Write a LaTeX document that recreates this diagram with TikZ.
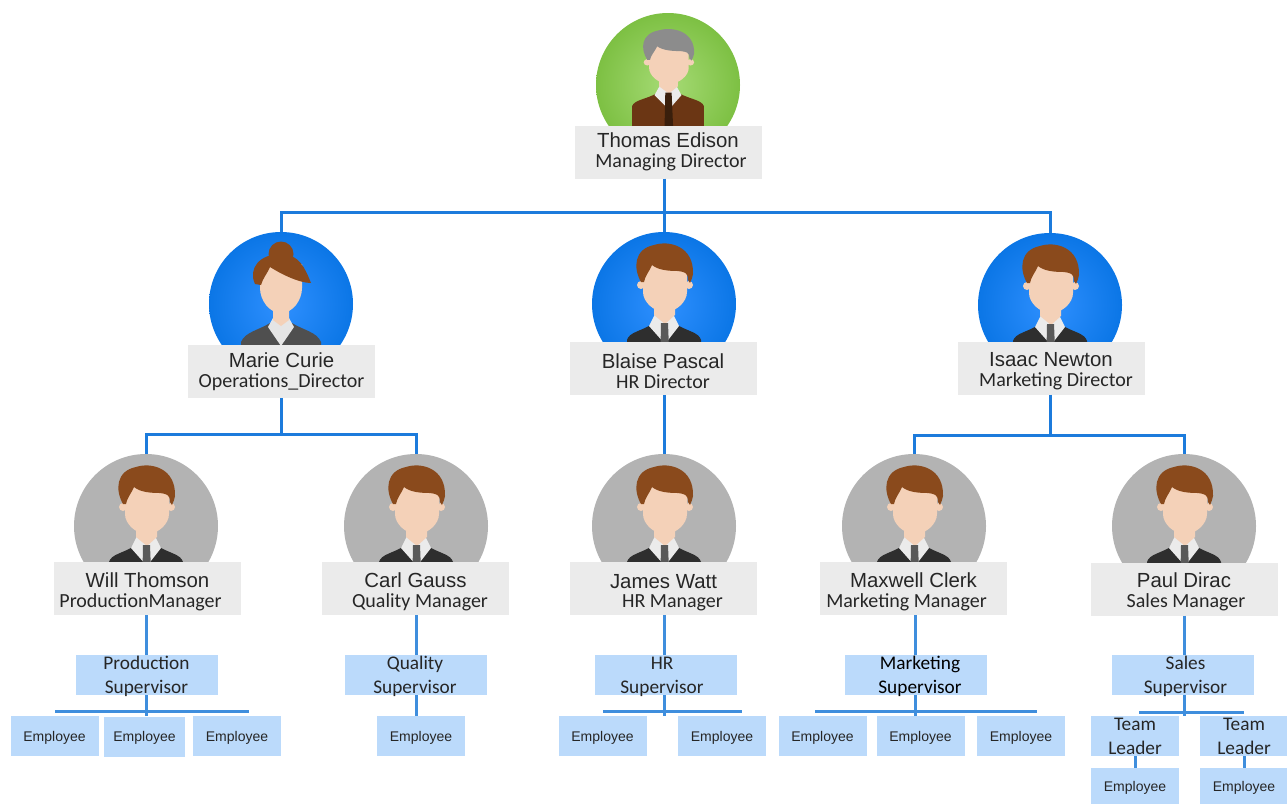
\documentclass[tikz,border=0pt]{standalone}
\usepackage{fontspec}
\setmainfont{Liberation Sans}
\newfontfamily\rolefont{Carlito}
\usetikzlibrary{positioning}
\definecolor{linkblue}{HTML}{1C7BDC}
\definecolor{lowblue}{HTML}{3F8EDD}
\definecolor{boxgrey}{HTML}{EBEBEB}
\definecolor{boxblue}{HTML}{BBDAFB}
\definecolor{skin}{HTML}{F4D1B8}
\definecolor{hairbrown}{HTML}{8A4A1C}
\definecolor{hairgrey}{HTML}{8C8C8C}
\definecolor{suitdark}{HTML}{2E2E2E}
\definecolor{suitbrown}{HTML}{6B3614}
\definecolor{tiegrey}{HTML}{595959}
\definecolor{tiebrown}{HTML}{3A1F0C}
\definecolor{suitgrey}{HTML}{4F4F4F}
\definecolor{inkgrey}{HTML}{262626}
\definecolor{greenin}{HTML}{A6DB75}
\definecolor{greenout}{HTML}{7DC043}
\definecolor{bluein}{HTML}{2F90FF}
\definecolor{blueout}{HTML}{0B76E6}
\definecolor{discgrey}{HTML}{B3B3B3}
\newcommand{\person}[3][0pt]{{\fontsize{20.4}{20}\selectfont #2}\\[5pt]{\hspace*{#1}\rolefont\fontsize{20}{20}\selectfont #3}}
\tikzset{
  disc/.style={circle,minimum size=144pt,inner sep=0pt},
  greendisc/.style={disc,inner color=greenin,outer color=greenout},
  bluedisc/.style={disc,inner color=bluein,outer color=blueout},
  greydisc/.style={disc,fill=discgrey},
  namebox/.style={fill=boxgrey,minimum width=187pt,minimum height=53pt,inner sep=0pt,align=center,text=inkgrey},
  lowtext/.style={text height=41pt},
  supbox/.style={fill=boxblue,minimum width=142pt,minimum height=40pt,inner sep=0pt},
  suptext/.style={align=center,inner sep=0pt,yshift=-1.5pt,text=inkgrey,font=\rolefont\fontsize{19.3}{24}\selectfont},
  teambox/.style={supbox,minimum width=88pt},
  empbox/.style={fill=boxblue,minimum width=88pt,minimum height=40pt,inner sep=0pt,text depth=0pt,text=inkgrey,font=\fontsize{14}{15}\selectfont},
  uplink/.style={linkblue,line width=3pt},
  lowlink/.style={lowblue,line width=3pt},
  pics/man/.style n args={4}{code={
    \begin{scope}[xscale=#3]
      \fill[#2] (-37,70) -- (-37,36) .. controls (-35,28) and (-22,27) .. (-12,20) -- (12,20) .. controls (22,27) and (35,28) .. (37,36) -- (37,70) -- cycle;
    \end{scope}
    \fill[white!92!black] (-15,22) -- (-9,10) -- (9,10) -- (15,22) -- (1,40) -- cycle;
    \fill[skin] (-10,-5) -- (-10,11) -- (1,20) -- (11,11) -- (11,-5) -- cycle;
    \fill[#4] (-3,19) -- (4,19) -- (6,70) -- (-4,70) -- cycle;
    \fill[skin] (-23,-19) circle (4) (25,-19) circle (4);
    \fill[skin] (-21,-40) -- (-21,-12) .. controls (-21,-2) and (-10,8) .. (1,8) .. controls (12,8) and (23,-2) .. (23,-12) -- (23,-40) -- cycle;
    \fill[#1] (-23,-22) .. controls (-31,-36) and (-30,-55) .. (-10,-59) .. controls (5,-64) and (30,-58) .. (29,-30) .. controls (29,-27) and (27,-24) .. (26,-21) -- (24,-24) .. controls (24,-32) and (20,-32) .. (14,-33) .. controls (4,-33) and (-6,-34) .. (-12,-39) .. controls (-15,-32) and (-19,-28) .. (-20,-22) -- cycle;
  }},
  pics/woman/.style={code={
    \fill[suitgrey] (-40,60) -- (-40,38) .. controls (-36,28) and (-22,26) .. (-11,19) -- (11,19) .. controls (22,26) and (36,28) .. (40,38) -- (40,60) -- cycle;
    \fill[white!90!black] (-13,23) -- (-8,14) -- (8,14) -- (13,23) -- (0,42) -- cycle;
    \fill[skin] (-8,0) -- (-8,16) -- (0,22) -- (8,16) -- (8,0) -- cycle;
    \fill[skin] (-21,-40) -- (-21,-16) .. controls (-21,-4) and (-12,9) .. (0,9) .. controls (12,9) and (21,-4) .. (21,-16) -- (21,-40) -- cycle;
    \fill[hairbrown] (0,-50) circle (12.5);
    \fill[hairbrown] (-26,-20) .. controls (-33,-35) and (-22,-50) .. (0,-50) .. controls (18,-50) and (24,-36) .. (30,-21) .. controls (18,-21) and (0,-30) .. (-11,-37) .. controls (-14,-30) and (-18,-26) .. (-20,-19) -- cycle;
  }}
}

\begin{document}
\begin{tikzpicture}[x=1pt,y=-1pt]
  \useasboundingbox (0,0) rectangle (1287,804);
  % avatars
  \node[greendisc] (edisonpic) at (668,85) {};
  \node[bluedisc] (curiepic) at (281,304) {};
  \node[bluedisc] (pascalpic) at (664,304) {};
  \node[bluedisc] (newtonpic) at (1050,305) {};
  \node[greydisc] (thomsonpic) at (146,526) {};
  \node[greydisc] (gausspic) at (416,526) {};
  \node[greydisc] (wattpic) at (664,526) {};
  \node[greydisc] (clerkpic) at (914,526) {};
  \node[greydisc] (diracpic) at (1184,526) {};
  \pic[xscale=.9,yscale=.8] at (668,77.5) {man={hairgrey}{suitbrown}{1.08}{tiebrown}};
  \pic at (281,304) {woman};
  \pic at (664,304) {man={hairbrown}{suitdark}{1}{tiegrey}};
  \pic at (1050,305) {man={hairbrown}{suitdark}{1}{tiegrey}};
  \pic at (146,526) {man={hairbrown}{suitdark}{1}{tiegrey}};
  \pic at (416,526) {man={hairbrown}{suitdark}{1}{tiegrey}};
  \pic at (664,526) {man={hairbrown}{suitdark}{1}{tiegrey}};
  \pic at (914,526) {man={hairbrown}{suitdark}{1}{tiegrey}};
  \pic at (1184,526) {man={hairbrown}{suitdark}{1}{tiegrey}};
  % people
  \node[namebox] (edison) at (668,152) {\person[6pt]{Thomas Edison}{Managing Director}};
  \node[namebox] (curie) at (281.5,371.5) {\person{Marie Curie}{Operations\_Director}};
  \node[namebox,lowtext] (pascal) at (663,368.5) {\person{Blaise Pascal}{HR Director}};
  \node[namebox,lowtext] (newton) at (1051,368) {\person[10pt]{Isaac Newton}{Marketing Director}};
  \node[namebox,lowtext] (thomson) at (147.5,588.5) {\person[-14pt]{Will Thomson}{ProductionManager}};
  \node[namebox,lowtext] (gauss) at (415.5,588.5) {\person[9pt]{Carl Gauss}{Quality Manager}};
  \node[namebox,lowtext] (watt) at (663.5,588.5) {\person[18pt]{James Watt}{HR Manager}};
  \node[namebox,lowtext] (clerk) at (913.5,588.5) {\person[-14pt]{Maxwell Clerk}{Marketing Manager}};
  \node[namebox,lowtext] (dirac) at (1184,589) {\person[4pt]{Paul Dirac}{Sales Manager}};
  % supervisors
  \node[supbox,label={[suptext]center:Production\\Supervisor}] (prodsup) at (146.5,675) {};
  \node[supbox,label={[suptext,xshift=-1pt]center:Quality\\Supervisor}] (qualsup) at (416,675) {};
  \node[supbox,label={[suptext,xshift=-4pt]center:HR\\Supervisor}] (hrsup) at (666,675) {};
  \node[supbox,label={[suptext,xshift=4pt,text=black]center:Marketing\\Supervisor}] (marksup) at (916,675) {};
  \node[supbox,label={[suptext,xshift=2.5pt]center:Sales\\Supervisor}] (salessup) at (1183,675) {};
  % employees
  \node[empbox] (proda) at (54.5,736) {Employee};
  \node[empbox,minimum width=81pt] (prodb) at (144.5,736.5) {Employee};
  \node[empbox] (prodc) at (237,736) {Employee};
  \node[empbox] (quala) at (421,736) {Employee};
  \node[empbox] (hra) at (602.5,736) {Employee};
  \node[empbox] (hrb) at (722,736) {Employee};
  \node[empbox] (marka) at (822.5,736) {Employee};
  \node[empbox] (markb) at (920.5,736) {Employee};
  \node[empbox] (markc) at (1021,736) {Employee};
  \node[teambox,label={[suptext,yshift=1.5pt]center:Team\\Leader}] (teama) at (1135,736) {};
  \node[teambox,label={[suptext,yshift=1.5pt]center:Team\\Leader}] (teamb) at (1244,736) {};
  \node[empbox,minimum height=36pt] (teamaemp) at (1135,786) {Employee};
  \node[empbox,minimum height=36pt] (teambemp) at (1244,786) {Employee};
  % top levels
  \coordinate (tophub) at (664,212);
  \coordinate (curiehub) at (281,434);
  \coordinate (newtonhub) at (1050,435);
  \draw[uplink] (pascalpic.north |- edison.south) -- (pascalpic.north);
  \draw[uplink] (curiepic.north) |- (tophub) -| (newtonpic.north);
  \draw[uplink] (wattpic.north |- pascal.south) -- (wattpic.north);
  \draw[uplink] (curiehub |- curie.south) -- (curiehub);
  \draw[uplink] (thomsonpic.north) |- (curiehub) -| (gausspic.north);
  \draw[uplink] (newtonhub |- newton.south) -- (newtonhub);
  \draw[uplink] (clerkpic.north) |- (newtonhub) -| (diracpic.north);
  % supervisor levels
  \coordinate (prodl) at (55,711);
  \coordinate (prodr) at (249,711);
  \coordinate (hrl) at (603,711);
  \coordinate (hrr) at (742,711);
  \coordinate (markl) at (815,711);
  \coordinate (markr) at (1037,711);
  \coordinate (salesl) at (1139,712);
  \coordinate (salesr) at (1244,712);
  \coordinate (marktop) at (915,655);
  \coordinate (markbot) at (915,695);
  \draw[lowlink] (prodsup.north |- thomson.south) -- (prodsup.north);
  \draw[lowlink] (prodsup.south) -- (prodsup.south |- prodb.north);
  \draw[lowlink] (prodl) -- (prodr);
  \draw[lowlink] (qualsup.north |- gauss.south) -- (qualsup.north);
  \draw[lowlink] (qualsup.south) -- (qualsup.south |- quala.north);
  \draw[lowlink] (wattpic.south |- watt.south) -- (wattpic.south |- hrsup.north);
  \draw[lowlink] (wattpic.south |- hrsup.south) -- (wattpic.south |- hra.north);
  \draw[lowlink] (hrl) -- (hrr);
  \draw[lowlink] (marktop |- clerk.south) -- (marktop);
  \draw[lowlink] (markbot) -- (markbot |- markb.north);
  \draw[lowlink] (markl) -- (markr);
  \draw[lowlink] (dirac.south) -- (dirac.south |- salessup.north);
  \draw[lowlink] (dirac.south |- salessup.south) -- (dirac.south |- teama.north);
  \draw[lowlink] (salesl) -- (salesr);
  \draw[lowlink] (teama.south) -- (teamaemp.north);
  \draw[lowlink] (teamb.south) -- (teambemp.north);
\end{tikzpicture}
\end{document}
